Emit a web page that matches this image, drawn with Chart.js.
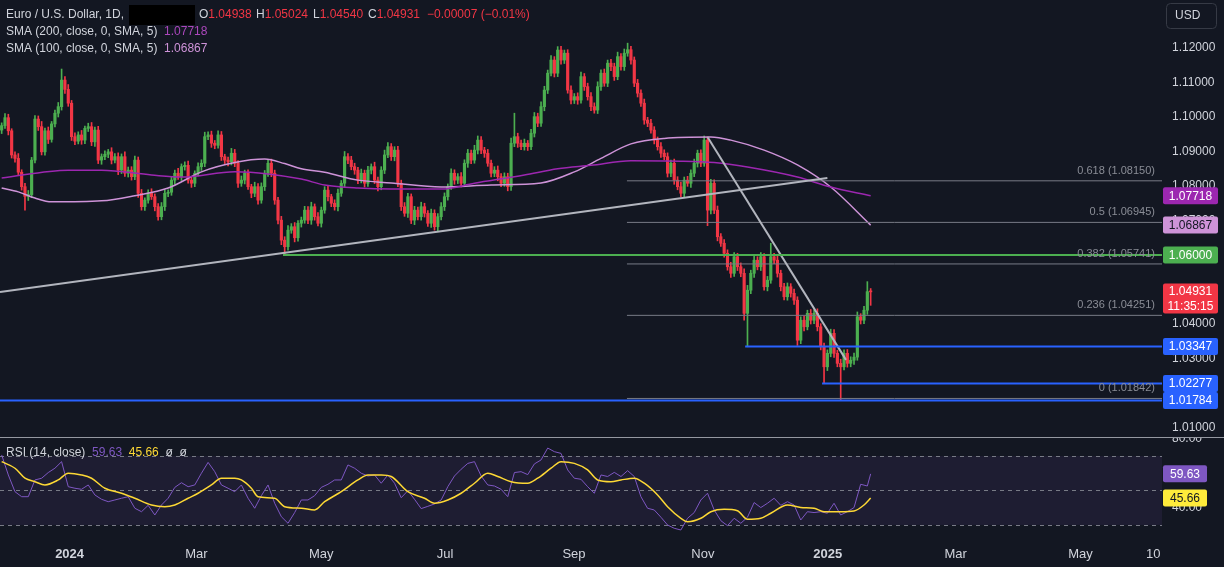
<!DOCTYPE html>
<html>
<head>
<meta charset="utf-8">
<script src="https://cdn.jsdelivr.net/npm/chart.js@4.4.1/dist/chart.umd.min.js"></script>
<style>
  html, body { margin: 0; padding: 0; background: #131722; }
  #wrap { position: relative; width: 1224px; height: 567px; background: #131722; overflow: hidden; }
  #wrap canvas { position: absolute; left: 0; }
  #price { top: 0; }
  #rsi { top: 437px; }
</style>
</head>
<body>
<div id="wrap">
  <canvas id="price" width="1224" height="437"></canvas>
  <canvas id="rsi" width="1224" height="130"></canvas>
</div>
<script>
// daily closes, EUR/USD, one per bar
var firstOpen = 1.0962;
var closes = [
  1.0975,1.0998,1.0960,1.0890,1.0880,1.0840,1.0798,1.0770,1.0775,1.0875,
  1.0994,1.0972,1.0899,1.0960,1.0935,1.0980,1.1011,1.1030,1.1107,1.1080,
  1.1040,1.0943,1.0930,1.0948,1.0933,1.0967,1.0972,1.0928,1.0962,1.0875,
  1.0885,1.0892,1.0899,1.0875,1.0885,1.0846,1.0885,1.0837,1.0846,1.0827,
  1.0875,1.0779,1.0740,1.0759,1.0779,1.0769,1.0740,1.0711,1.0740,1.0779,
  1.0782,1.0817,1.0837,1.0827,1.0856,1.0860,1.0817,1.0808,1.0837,1.0856,
  1.0866,1.0943,1.0948,1.0924,1.0918,1.0948,1.0885,1.0875,1.0870,1.0895,
  1.0866,1.0808,1.0817,1.0837,1.0798,1.0779,1.0798,1.0759,1.0798,1.0837,
  1.0866,1.0837,1.0759,1.0701,1.0643,1.0624,1.0672,1.0682,1.0650,1.0692,
  1.0701,1.0730,1.0701,1.0740,1.0711,1.0692,1.0730,1.0788,1.0769,1.0750,
  1.0740,1.0779,1.0808,1.0885,1.0875,1.0856,1.0846,1.0817,1.0837,1.0808,
  1.0846,1.0856,1.0817,1.0798,1.0846,1.0890,1.0914,1.0885,1.0904,1.0808,
  1.0740,1.0721,1.0769,1.0701,1.0730,1.0711,1.0740,1.0721,1.0692,1.0721,
  1.0682,1.0711,1.0740,1.0769,1.0798,1.0837,1.0817,1.0827,1.0808,1.0866,
  1.0895,1.0875,1.0904,1.0933,1.0904,1.0895,1.0866,1.0837,1.0846,1.0827,
  1.0808,1.0827,1.0798,1.0924,1.0943,1.0924,1.0914,1.0924,1.0914,1.0953,
  1.1001,1.0982,1.1030,1.1078,1.1127,1.1165,1.1127,1.1194,1.1165,1.1185,
  1.1078,1.1049,1.1059,1.1049,1.1117,1.1088,1.1059,1.1030,1.1020,1.1088,
  1.1127,1.1098,1.1156,1.1146,1.1117,1.1175,1.1146,1.1185,1.1195,1.1165,
  1.1098,1.1069,1.1040,1.0991,1.0982,1.0962,1.0933,1.0914,1.0895,1.0885,
  1.0837,1.0866,1.0817,1.0798,1.0779,1.0817,1.0808,1.0837,1.0866,1.0895,
  1.0866,1.0933,1.0730,1.0808,1.0730,1.0653,1.0634,1.0605,1.0566,1.0547,
  1.0595,1.0566,1.0547,1.0431,1.0498,1.0547,1.0585,1.0566,1.0595,1.0508,
  1.0527,1.0595,1.0585,1.0547,1.0508,1.0479,1.0508,1.0489,1.0469,1.0353,
  1.0411,1.0392,1.0431,1.0411,1.0431,1.0392,1.0334,1.0276,1.0315,1.0373,
  1.0315,1.0286,1.0276,1.0315,1.0286,1.0295,1.0304,1.0421,1.0411,1.0440,
  1.04938,1.04931
];
// wick lengths above / below the body, in pips
var wickUp = [
  8,12,10,6,9,14,7,10,12,8, 10,9,15,8,11,7,9,12,32,10, 14,8,11,9,13,7,10,12,9,11,
  8,10,7,12,9,11,8,14,9,10, 12,9,11,7,10,13,8,9,12,10, 7,11,9,14,8,10,12,9,7,11,
  10,13,9,11,8,12,10,7,9,14, 11,8,12,9,10,7,13,9,11,8, 10,12,9,8,11,10,13,9,12,8,
  9,11,10,13,8,12,9,10,11,7, 10,12,8,15,9,11,10,8,12,9, 11,8,13,9,10,14,12,9,10,11,
  9,12,10,8,11,9,13,10,8,12, 10,9,12,11,8,13,10,9,12,10, 11,9,14,12,10,8,11,9,10,12,
  9,11,10,15,68,10,9,12,8,11, 12,10,14,11,9,13,10,10,11,9, 10,12,9,11,13,9,10,12,11,14,
  10,12,9,11,10,13,9,12,19,10, 9,11,10,12,8,11,10,9,12,10, 11,9,12,10,13,9,11,10,12,9,
  10,12,9,11,10,12,9,11,10,13, 12,10,11,13,14,9,11,10,12,9, 11,39,10,12,9,10,11,9,12,10,
  10,12,9,11,10,13,9,11,10,12, 11,9,12,10,11,10,12,14,9,11, 29,9
];
var wickDn = [
  10,8,12,9,11,7,10,40,12,9, 8,11,9,10,12,8,9,11,10,12, 9,11,10,8,12,10,9,11,13,10,
  12,9,10,11,8,13,10,9,11,10, 9,12,10,11,9,8,12,10,9,11, 10,9,12,8,11,10,9,12,10,8,
  11,10,9,12,10,8,11,10,12,9, 10,12,9,11,8,13,10,12,9,11, 9,10,12,11,13,23,10,9,12,10,
  11,9,10,12,10,8,11,9,12,10, 10,12,9,11,10,9,12,10,8,11, 9,11,10,12,9,10,8,11,12,10,
  11,9,12,10,13,9,10,11,9,12, 10,12,9,11,10,8,12,10,11,9, 12,10,9,11,10,12,9,11,10,12,
  10,9,12,11,10,12,9,10,11,9, 11,10,9,12,10,8,11,10,12,10, 9,11,10,12,9,11,10,12,9,10,
  11,9,10,12,11,9,10,11,9,12, 10,11,9,12,10,9,11,10,12,9, 11,10,12,9,11,10,9,12,10,11,
  10,9,45,11,10,12,9,11,10,12, 9,11,10,20,97,10,12,9,11,10, 12,9,10,11,12,9,10,11,12,15,
  10,12,9,11,10,12,9,48,11,10, 12,10,98,9,11,10,12,9,11,10, 12,39
];

// moving averages, sampled along the curve
var sma200Bars = [0,20,30,45,54,70,80,90,97,107,117,132,142,157,167,177,189,204,214,224,239,249,261];
var sma200Vals = [1.0823,1.0846,1.0846,1.0832,1.0826,1.0841,1.0835,1.0820,1.0803,1.0794,1.0791,1.0791,1.0808,1.0832,1.0850,1.0860,1.0873,1.0872,1.0868,1.0855,1.0826,1.0797,1.07718];
var sma100Bars = [0,5,10,15,30,40,50,60,70,79,85,90,97,107,117,132,147,162,172,180,189,199,213,219,229,239,249,261];
var sma100Vals = [1.0794,1.0783,1.0765,1.0754,1.0757,1.0772,1.0794,1.0841,1.0868,1.0878,1.0865,1.0850,1.0840,1.0817,1.0809,1.0797,1.0803,1.0809,1.0841,1.0880,1.0922,1.0938,1.0942,1.0933,1.0904,1.0861,1.0797,1.06867];

// drawings
var trendUpBars = [-0.5, 248], trendUpVals = [1.0493, 1.0823];
var trendDnBars = [212, 253.6], trendDnVals = [1.0942, 1.0296];
var fibFrom = 187.8;
var fibVals = [1.08150, 1.06945, 1.05741, 1.04251, 1.01842];
var fibLabels = ['0.618', '0.5', '0.382', '0.236', '0'];
var levelVals = [1.06000, 1.03347, 1.02277, 1.01784];
var levelFrom = [84.5, 223.3, 246.4, -0.5];
var levelColors = ['#4caf50', '#2962ff', '#2962ff', '#2962ff'];

// RSI(14) every second bar, last bar separately; RSI-MA sampled
var rsiStep = 2;
var rsiVals = [
  70.6,59.0,49.3,46.4,46.4,56.1,57.1,60.4,62.9,66.7, 52.2,51.3,50.7,53.2,47.4,44.9,43.5,44.5,45.5,46.4,
  39.7,37.7,41.4,35.8,41.6,45.5,51.8,54.5,52.2,53.2, 60.0,66.3,60.9,53.2,51.3,49.3,53.2,45.5,39.7,47.0,
  53.2,42.6,34.8,31.0,37.2,44.5,44.5,47.0,51.8,53.6, 56.1,56.1,64.8,62.9,60.0,58.4,59.0,54.2,59.0,54.2,
  45.8,49.9,44.9,39.5,40.8,42.2,44.5,52.2,58.4,62.3, 65.7,66.7,58.4,53.2,52.6,50.7,46.4,60.4,60.9,59.2,
  65.4,67.7,74.6,72.5,71.5,61.9,57.1,56.5,52.2,48.4, 59.0,58.1,60.5,58.1,61.5,58.1,46.4,39.7,38.7,34.5,
  30.0,28.1,27.1,33.9,37.2,44.5,48.4,38.7,32.5,29.6, 33.9,31.0,34.5,43.0,40.1,42.6,45.5,41.4,43.5,41.6,
  32.9,37.7,37.2,37.7,36.8,42.6,35.8,37.7,40.1,53.6, 52.6
];
var rsiLast = 59.63;
var rsiMaBars = [0,4,7,10,13,17,20,24,27,31,36,40,45,49,52,56,59,63,66,70,72,75,77,82,85,90,94,97,102,107,110,114,117,122,127,130,134,138,142,146,149,153,158,161,165,168,172,176,179,183,186,190,193,197,200,204,206,210,213,217,221,224,228,231,236,240,244,247,252,256,259,261];
var rsiMaVals = [66.7,62.9,57.1,55.1,53.2,56.1,60.0,59.0,57.1,51.3,48.4,45.5,41.6,40.6,41.6,45.5,48.4,53.2,57.1,57.1,56.1,51.3,46.4,45.5,40.6,39.7,38.7,43.5,49.3,56.1,59.0,59.0,58.1,49.3,45.5,42.6,44.5,48.4,54.2,60.0,58.1,55.1,54.2,57.1,62.9,66.7,65.7,61.9,56.1,55.1,56.1,57.1,54.2,47.4,40.6,33.9,31.9,33.9,37.7,39.1,38.3,33.3,33.9,36.8,41.6,40.2,39.7,37.7,37.7,38.1,41.6,45.66];

// axes
var xMin = -0.5, xMax = 348.5;
var priceTicks = [1.01,1.02,1.03,1.04,1.05,1.06,1.07,1.08,1.09,1.10,1.11,1.12];
var tickBars = [20.4, 58.5, 96, 133.2, 171.9, 210.6, 248.1, 286.5, 324, 345.9];
var tickLabels = ['2024','Mar','May','Jul','Sep','Nov','2025','Mar','May','10'];

var FONT = '"Liberation Sans", Arial, sans-serif';
var UP = '#4caf50', DOWN = '#f23645', TXT = '#d1d4dc';
Chart.defaults.font.family = FONT;
Chart.defaults.color = TXT;

var pip = 0.0001;
var opens = closes.map(function(c, i){ return i === 0 ? firstOpen : closes[i-1]; });
var candleColors = closes.map(function(c, i){ return c >= opens[i] ? UP : DOWN; });
var wickPts = closes.map(function(c, i){
  return {x: i, y: [Math.min(opens[i], c) - wickDn[i]*pip, Math.max(opens[i], c) + wickUp[i]*pip]};
});
var bodyPts = closes.map(function(c, i){ return {x: i, y: [opens[i], c]}; });

function pts(xs, ys){ return xs.map(function(x, i){ return {x: x, y: ys[i]}; }); }
function lineDs(data, color, width, order, extra){
  var d = {type: 'line', data: data, borderColor: color, borderWidth: width, pointRadius: 0,
           fill: false, order: order};
  for (var k in extra) d[k] = extra[k];
  return d;
}
// keep the plot area flush with the canvas edges
function noPad(s){ s.paddingTop = 0; s.paddingBottom = 0; s.paddingLeft = 0; s.paddingRight = 0; }

var priceSets = [
  {type: 'bar', data: wickPts, backgroundColor: candleColors, barThickness: 1, grouped: false, order: 4},
  {type: 'bar', data: bodyPts, backgroundColor: candleColors, barThickness: 2.5, grouped: false, minBarLength: 1, order: 3},
  lineDs(pts(sma200Bars, sma200Vals), '#9c27b0', 1.5, 2, {cubicInterpolationMode: 'monotone'}),
  lineDs(pts(sma100Bars, sma100Vals), '#ce93d8', 1.5, 2, {cubicInterpolationMode: 'monotone'}),
  lineDs(pts(trendUpBars, trendUpVals), '#b2b5be', 2, 1),
  lineDs(pts(trendDnBars, trendDnVals), '#b2b5be', 2, 1)
];
fibVals.forEach(function(v){
  priceSets.push(lineDs(pts([fibFrom, xMax], [v, v]), '#787b86', 1, 1));
});
levelVals.forEach(function(v, k){
  priceSets.push(lineDs(pts([levelFrom[k], xMax], [v, v]), levelColors[k], 2, 0));
});

function badge(ctx, x, yc, w, h, bg, fg, lines){
  ctx.fillStyle = bg;
  ctx.beginPath();
  if (ctx.roundRect) ctx.roundRect(x, yc - h/2, w, h, 2); else ctx.rect(x, yc - h/2, w, h);
  ctx.fill();
  ctx.fillStyle = fg;
  ctx.textAlign = 'center';
  ctx.textBaseline = 'middle';
  var lh = h / lines.length;
  lines.forEach(function(t, k){ ctx.fillText(t, x + w/2, yc - h/2 + lh*(k + 0.5) + 0.5); });
}

function runText(ctx, x, y, parts){
  parts.forEach(function(p){
    ctx.fillStyle = p[1];
    ctx.fillText(p[0], x, y);
    x += ctx.measureText(p[0]).width;
  });
  return x;
}

var priceOverlay = {
  id: 'priceOverlay',
  afterDraw: function(chart){
    var ctx = chart.ctx, ys = chart.scales.y, a = chart.chartArea;
    ctx.save();
    // fib labels
    ctx.font = '11px ' + FONT;
    ctx.textAlign = 'right';
    ctx.textBaseline = 'middle';
    ctx.fillStyle = '#8a8d96';
    fibVals.forEach(function(v, k){
      ctx.fillText(fibLabels[k] + ' (' + v.toFixed(5) + ')', a.right - 7, ys.getPixelForValue(v) - 10);
    });
    // price scale badges
    ctx.font = '12px ' + FONT;
    var bx = a.right + 1, bw = 55;
    badge(ctx, bx, ys.getPixelForValue(sma200Vals[sma200Vals.length-1]), bw, 17, '#9c27b0', '#ffffff', [sma200Vals[sma200Vals.length-1].toFixed(5)]);
    badge(ctx, bx, ys.getPixelForValue(sma100Vals[sma100Vals.length-1]), bw, 17, '#ce93d8', '#131722', [sma100Vals[sma100Vals.length-1].toFixed(5)]);
    levelVals.forEach(function(v, k){
      badge(ctx, bx, ys.getPixelForValue(v), bw, 17, levelColors[k], '#ffffff', [v.toFixed(5)]);
    });
    var last = closes[closes.length-1];
    badge(ctx, bx, ys.getPixelForValue(last) + 6.5, bw, 30, '#f23645', '#ffffff', [last.toFixed(5), '11:35:15']);
    // USD box
    ctx.strokeStyle = '#363a45';
    ctx.lineWidth = 1;
    ctx.beginPath();
    if (ctx.roundRect) ctx.roundRect(1166.5, 3.5, 50, 25, 4); else ctx.rect(1166.5, 3.5, 50, 25);
    ctx.stroke();
    ctx.fillStyle = TXT;
    ctx.textAlign = 'left';
    ctx.fillText('USD', 1175, 16);
    // legend
    ctx.font = '12px ' + FONT;
    ctx.textBaseline = 'middle';
    ctx.fillStyle = TXT;
    ctx.fillText('Euro / U.S. Dollar, 1D,', 6, 15);
    ctx.fillStyle = '#000000';
    ctx.fillRect(129, 5, 66, 20);
    var red = '#f23645';
    runText(ctx, 199, 15, [['O', TXT], ['1.04938', red]]);
    runText(ctx, 256, 15, [['H', TXT], ['1.05024', red]]);
    runText(ctx, 313, 15, [['L', TXT], ['1.04540', red]]);
    runText(ctx, 368, 15, [['C', TXT], [last.toFixed(5), red]]);
    runText(ctx, 427, 15, [['\u22120.00007 (\u22120.01%)', red]]);
    runText(ctx, 6, 32, [['SMA (200, close, 0, SMA, 5)  ', TXT], [sma200Vals[sma200Vals.length-1].toFixed(5), '#ab47bc']]);
    runText(ctx, 6, 49, [['SMA (100, close, 0, SMA, 5)  ', TXT], [sma100Vals[sma100Vals.length-1].toFixed(5), '#ce93d8']]);
    ctx.restore();
  }
};

new Chart(document.getElementById('price'), {
  type: 'bar',
  data: {datasets: priceSets},
  options: {
    responsive: false, animation: false, devicePixelRatio: 1, events: [],
    layout: {padding: 0},
    plugins: {legend: {display: false}, tooltip: {enabled: false}},
    scales: {
      x: {type: 'linear', min: xMin, max: xMax, offset: false, display: false},
      y: {
        position: 'right', min: 1.00725, max: 1.13391,
        grid: {display: false, drawTicks: false}, border: {display: false},
        afterBuildTicks: function(s){ s.ticks = priceTicks.map(function(v){ return {value: v}; }); },
        afterFit: function(s){ s.width = 62; noPad(s); },
        ticks: {padding: 10, color: TXT, font: {size: 12}, callback: function(v){ return Number(v).toFixed(5); }}
      }
    }
  },
  plugins: [priceOverlay]
});

// RSI panel
var rsiPts = rsiVals.map(function(v, k){ return {x: k * rsiStep, y: v}; });
rsiPts.push({x: closes.length - 1, y: rsiLast});

var rsiOverlay = {
  id: 'rsiOverlay',
  beforeDatasetsDraw: function(chart){
    var ctx = chart.ctx, ys = chart.scales.y, a = chart.chartArea;
    ctx.save();
    var y70 = ys.getPixelForValue(70), y30 = ys.getPixelForValue(30);
    ctx.fillStyle = 'rgba(126,87,194,0.1)';
    ctx.fillRect(a.left, y70, a.right - a.left, y30 - y70);
    ctx.strokeStyle = '#787b86';
    ctx.lineWidth = 1;
    ctx.setLineDash([4, 4]);
    [70, 50, 30].forEach(function(v){
      var y = Math.round(ys.getPixelForValue(v)) + 0.5;
      ctx.beginPath(); ctx.moveTo(a.left, y); ctx.lineTo(a.right, y); ctx.stroke();
    });
    ctx.setLineDash([]);
    ctx.restore();
  },
  afterDraw: function(chart){
    var ctx = chart.ctx, ys = chart.scales.y, a = chart.chartArea;
    ctx.save();
    ctx.strokeStyle = '#9598a1';
    ctx.lineWidth = 1;
    ctx.beginPath(); ctx.moveTo(0, 0.5); ctx.lineTo(chart.width, 0.5); ctx.stroke();
    ctx.font = '12px ' + FONT;
    badge(ctx, a.right + 1, ys.getPixelForValue(rsiLast), 44, 17, '#7e57c2', '#ffffff', [rsiLast.toFixed(2)]);
    var maLast = rsiMaVals[rsiMaVals.length-1];
    badge(ctx, a.right + 1, ys.getPixelForValue(maLast), 44, 17, '#ffeb3b', '#131722', [maLast.toFixed(2)]);
    ctx.textAlign = 'left';
    ctx.textBaseline = 'middle';
    runText(ctx, 6, 16, [['RSI (14, close)  ', TXT], [rsiLast.toFixed(2), '#7e57c2'], ['  ', TXT],
                         [maLast.toFixed(2), '#fdd835'], ['  \u00f8  \u00f8', TXT]]);
    ctx.restore();
  }
};

new Chart(document.getElementById('rsi'), {
  type: 'line',
  data: {datasets: [
    lineDs(rsiPts, '#7e57c2', 1, 1),
    lineDs(pts(rsiMaBars, rsiMaVals), '#fdd835', 1.5, 0, {cubicInterpolationMode: 'monotone'})
  ]},
  options: {
    responsive: false, animation: false, devicePixelRatio: 1, events: [],
    layout: {padding: 0},
    plugins: {legend: {display: false}, tooltip: {enabled: false}},
    scales: {
      x: {
        type: 'linear', min: xMin, max: xMax, offset: false,
        grid: {display: false, drawTicks: false}, border: {display: false},
        afterBuildTicks: function(s){ s.ticks = tickBars.map(function(v){ return {value: v}; }); },
        afterFit: function(s){ s.height = 27; noPad(s); },
        ticks: {
          autoSkip: false, maxRotation: 0, padding: 7, color: TXT,
          font: function(c){ return {size: 13, weight: /^\d{4}$/.test(tickLabels[c.index]) ? 'bold' : 'normal'}; },
          callback: function(v, i){ return tickLabels[i]; }
        }
      },
      y: {
        position: 'right', min: 21.3, max: 81.0,
        grid: {display: false, drawTicks: false}, border: {display: false},
        afterBuildTicks: function(s){ s.ticks = [80, 60, 40].map(function(v){ return {value: v}; }); },
        afterFit: function(s){ s.width = 62; noPad(s); },
        ticks: {padding: 10, color: TXT, font: {size: 12}, callback: function(v){ return Number(v).toFixed(2); }}
      }
    }
  },
  plugins: [rsiOverlay]
});
</script>
</body>
</html>
